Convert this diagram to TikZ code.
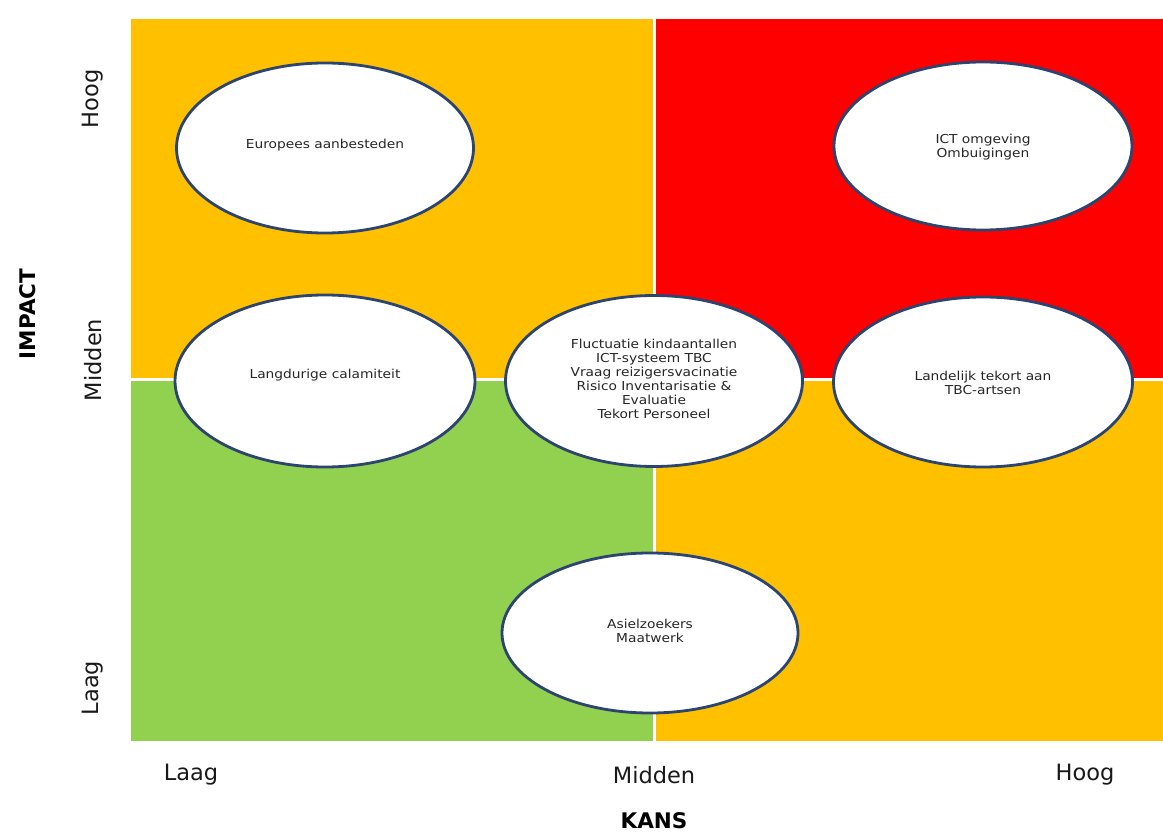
\documentclass[tikz,border=0pt]{standalone}
\usepackage{fontspec}
\setmainfont{DejaVu Sans}
\newfontfamily\elfont[FakeStretch=1.12]{DejaVu Sans}
\newfontfamily\axfont{DejaVu Sans}
\usetikzlibrary{shapes.geometric}
\definecolor{qorange}{HTML}{FFC000}
\definecolor{qred}{HTML}{FF0000}
\definecolor{qgreen}{HTML}{92D050}
\definecolor{eborder}{HTML}{2C4470}
\definecolor{etext}{HTML}{262626}
\tikzset{
  riskell/.style={ellipse, draw=eborder, line width=2.8pt, fill=white, inner sep=0pt},
  risktxt/.style={align=center, text=etext, inner sep=0pt, font=\fontsize{12.3}{14}\selectfont\elfont},
  axlabel/.style={inner sep=0pt, text=black!90, font=\fontsize{22.5}{26}\selectfont\axfont},
  axtitle/.style={inner sep=0pt, text=black, font=\fontsize{21.5}{26}\selectfont\axfont\bfseries},
  divider/.style={white, line width=3pt}
}
\begin{document}
\begin{tikzpicture}[x=1pt,y=-1pt]
\useasboundingbox (0,0) rectangle (1163,834);
% quadrants
\fill[qorange] (131,19) rectangle (654,380);
\fill[qred] (654,19) rectangle (1163,380);
\fill[qgreen] (131,380) rectangle (654,741);
\fill[qorange] (654,380) rectangle (1163,741);
\draw[divider] (654,19) -- (654,741);
\draw[divider] (131,380) -- (1163,380);
% ellipses
\node[riskell, minimum width=297pt, minimum height=170pt] (e1) at (325,148) {};
\node[riskell, minimum width=298pt, minimum height=168pt] (e2) at (983,146) {};
\node[riskell, minimum width=300pt, minimum height=172pt] (e3) at (325,381) {};
\node[riskell, minimum width=297pt, minimum height=171pt] (e4) at (654,381) {};
\node[riskell, minimum width=299pt, minimum height=170pt] (e5) at (983,382) {};
\node[riskell, minimum width=296pt, minimum height=160pt] (e6) at (650,633) {};
% texts
\node[risktxt] (t1) at (325,145) {Europees aanbesteden};
\node[risktxt] (t2) at (983,147) {ICT omgeving\\Ombuigingen};
\node[risktxt] (t3) at (325,375) {Langdurige calamiteit};
\node[risktxt] (t4) at (654,379) {Fluctuatie kindaantallen\\ICT-systeem TBC\\Vraag reizigersvacinatie\\Risico Inventarisatie \&\\Evaluatie\\Tekort Personeel};
\node[risktxt] (t5) at (983,383) {Landelijk tekort aan\\TBC-artsen};
\node[risktxt] (t6) at (650,631) {Asielzoekers\\Maatwerk};
% axis labels
\node[axlabel, rotate=90] (ih) at (93,99) {Hoog};
\node[axlabel, rotate=90] (im) at (93,360) {Midden};
\node[axlabel, rotate=90] (il) at (93,688) {Laag};
\node[axtitle, rotate=90] (it) at (28,314) {IMPACT};
\node[axlabel] (kl) at (191,775) {Laag};
\node[axlabel] (km) at (654,775) {Midden};
\node[axlabel] (kh) at (1085,775) {Hoog};
\node[axtitle] (kt) at (654,821) {KANS};
\end{tikzpicture}
\end{document}
